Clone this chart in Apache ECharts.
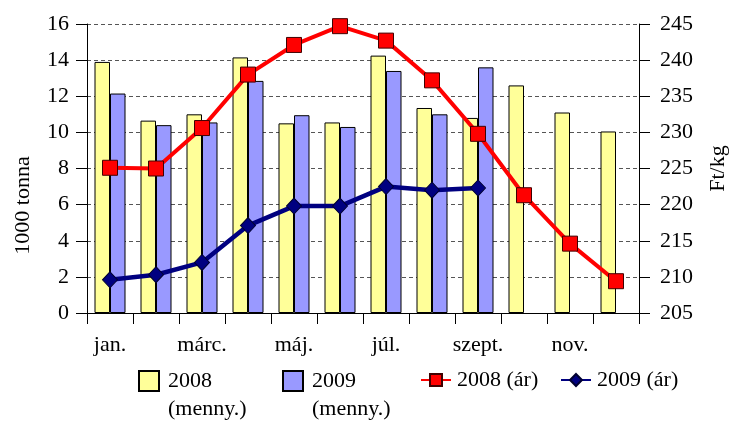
<!DOCTYPE html>
<html>
<head>
<meta charset="utf-8">
<script src="https://cdn.jsdelivr.net/npm/echarts@6/dist/echarts.min.js"></script>
<style>
html,body{margin:0;padding:0;background:#fff;}
#chart{width:731px;height:423px;}
</style>
</head>
<body>
<div id="chart"></div>
<script>
var months = ['jan.', 'febr.', 'márc.', 'ápr.', 'máj.', 'jún.', 'júl.', 'aug.', 'szept.', 'okt.', 'nov.', 'dec.'];
var qty2008 = [13.9, 10.65, 11.0, 14.15, 10.5, 10.55, 14.25, 11.35, 10.8, 12.6, 11.1, 10.05];
var qty2009 = [12.15, 10.4, 10.55, 12.85, 10.95, 10.3, 13.4, 11.0, 13.6, null, null, null];
var price2008 = [225.1, 225.0, 230.6, 238.0, 242.1, 244.7, 242.7, 237.2, 229.8, 221.3, 214.6, 209.4];
var price2009 = [209.6, 210.3, 212.0, 217.1, 219.8, 219.8, 222.5, 222.0, 222.3, null, null, null];
var leftTicks = {min: 0, max: 16, interval: 2};
var rightTicks = {min: 205, max: 245, interval: 5};
var names = ['2008\n(menny.)', '2009\n(menny.)', '2008 (ár)', '2009 (ár)'];

var FF = 'Liberation Serif';
var FS = 22;
var chart = echarts.init(document.getElementById('chart'), null, {renderer: 'canvas'});

function barLegend(name, left) {
  return {
    data: [name], left: left, top: 339, padding: 0,
    itemWidth: 20, itemHeight: 20, icon: 'rect',
    formatter: function (n) { return ' \n' + n; },
    textStyle: {fontFamily: FF, fontSize: FS, color: '#000', lineHeight: 28, padding: [0, 0, 0, 4]},
    selectedMode: false
  };
}
function lineLegend(name, left) {
  return {
    data: [name], left: left, top: 369, padding: 0,
    itemWidth: 30, itemHeight: 15,
    textStyle: {fontFamily: FF, fontSize: FS, color: '#000', padding: [0, 0, 0, 1]},
    selectedMode: false
  };
}

var option = {
  animation: false,
  backgroundColor: '#fff',
  textStyle: {fontFamily: FF},
  grid: {left: 87, right: 92, top: 24, bottom: 110, containLabel: false, outerBoundsMode: 'none'},
  legend: [
    barLegend(names[0], 138),
    barLegend(names[1], 282),
    lineLegend(names[2], 420),
    lineLegend(names[3], 560)
  ],
  xAxis: {
    type: 'category',
    data: months,
    axisLine: {lineStyle: {color: '#000', width: 1}},
    axisTick: {show: true, interval: 0, length: 11, lineStyle: {color: '#000'}},
    axisLabel: {interval: 1, margin: 21, fontFamily: FF, fontSize: FS, color: '#000'},
    splitLine: {show: false}
  },
  yAxis: [
    {
      type: 'value', position: 'left',
      min: leftTicks.min, max: leftTicks.max, interval: leftTicks.interval,
      name: '1000 tonna', nameLocation: 'middle', nameRotate: 90, nameGap: 53,
      nameTextStyle: {fontFamily: FF, fontSize: FS, color: '#000', padding: [0, 74, 0, 0]},
      axisLine: {show: true, lineStyle: {color: '#000'}},
      axisTick: {show: true, length: 11, lineStyle: {color: '#000'}},
      axisLabel: {margin: 18, fontFamily: FF, fontSize: FS, color: '#000'},
      splitLine: {show: true, lineStyle: {color: '#555', type: [4, 3], width: 1}}
    },
    {
      type: 'value', position: 'right',
      min: rightTicks.min, max: rightTicks.max, interval: rightTicks.interval,
      name: 'Ft/kg', nameLocation: 'middle', nameRotate: 90, nameGap: 68,
      nameTextStyle: {fontFamily: FF, fontSize: FS, color: '#000'},
      axisLine: {show: true, lineStyle: {color: '#000'}},
      axisTick: {show: true, length: 11, lineStyle: {color: '#000'}},
      axisLabel: {margin: 21, fontFamily: FF, fontSize: FS, color: '#000'},
      splitLine: {show: false}
    }
  ],
  series: [
    {
      name: names[0], type: 'bar', data: qty2008, barWidth: 15.5, barGap: '0%',
      itemStyle: {color: '#FFFF99', borderColor: '#000', borderWidth: 1}
    },
    {
      name: names[1], type: 'bar', data: qty2009, barWidth: 15.5, barGap: '0%',
      itemStyle: {color: '#9999FF', borderColor: '#000', borderWidth: 1}
    },
    {
      name: names[2], type: 'line', yAxisIndex: 1, data: price2008, z: 5,
      symbol: 'rect', symbolSize: 15,
      lineStyle: {color: '#FF0000', width: 4},
      itemStyle: {color: '#FF0000', borderColor: '#400000', borderWidth: 1}
    },
    {
      name: names[3], type: 'line', yAxisIndex: 1, data: price2009, z: 5,
      symbol: 'diamond', symbolSize: [15, 16],
      lineStyle: {color: '#000080', width: 4.5},
      itemStyle: {color: '#000080', borderColor: '#000030', borderWidth: 1}
    }
  ]
};
chart.setOption(option);
</script>
</body>
</html>
